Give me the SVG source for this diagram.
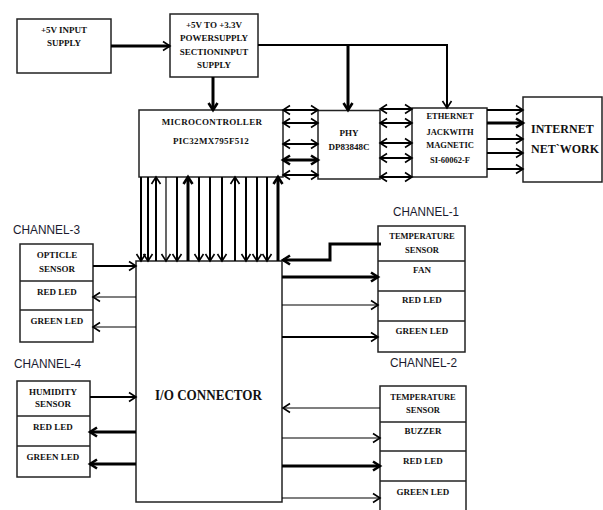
<svg xmlns="http://www.w3.org/2000/svg" width="603" height="510" viewBox="0 0 603 510">
<style>
.box{fill:#fff;stroke:#222;stroke-width:1.5}
.t{font-family:"Liberation Serif","Times New Roman",serif;font-weight:bold;font-size:9px;fill:#111;text-anchor:middle}
.ch{font-family:"Liberation Sans",Arial,sans-serif;font-size:13px;fill:#1a1a2e}
.big{font-family:"Liberation Serif","Times New Roman",serif;font-weight:bold;font-size:15px;fill:#111}
.net{font-family:"Liberation Serif","Times New Roman",serif;font-weight:bold;font-size:12px;fill:#111}
.c path,.c line,.c polyline{fill:none;stroke:#000}
.w1{stroke-width:1.2}
.w2{stroke-width:2}
.w3{stroke-width:3}
</style>
<defs>
<marker id="a" markerUnits="userSpaceOnUse" viewBox="-1 -6 10 12" markerWidth="10" markerHeight="12" refX="7" refY="0" orient="auto-start-reverse" overflow="visible">
<path d="M0,-4.5 L7,0 L0,4.5" fill="none" stroke="#000" stroke-width="1.6"/>
</marker>
<marker id="b" markerUnits="userSpaceOnUse" viewBox="-1 -6 10 12" markerWidth="10" markerHeight="12" refX="7" refY="0" orient="auto-start-reverse" overflow="visible">
<path d="M0,-4.5 L7,0 L0,4.5" fill="none" stroke="#000" stroke-width="2.6"/>
</marker>
</defs>

<g id="input-supply">
<rect class="box" x="17" y="19" width="94" height="54"/>
<text class="t" x="64" y="33">+5V INPUT</text>
<text class="t" x="64" y="46">SUPPLY</text>
</g>

<g id="power-supply">
<rect class="box" x="170" y="14" width="88" height="63"/>
<text class="t" x="214" y="28">+5V TO +3.3V</text>
<text class="t" x="214" y="41">POWERSUPPLY</text>
<text class="t" x="214" y="55">SECTIONINPUT</text>
<text class="t" x="214" y="68">SUPPLY</text>
</g>

<g id="microcontroller">
<rect class="box" x="139" y="110" width="144" height="67"/>
<text class="t" x="212" y="124.5" letter-spacing="0.3">MICROCONTROLLER</text>
<text class="t" x="211" y="143.5" letter-spacing="0.3">PIC32MX795F512</text>
</g>

<g id="phy">
<rect class="box" x="318" y="110.5" width="62" height="68.5"/>
<text class="t" x="349" y="136">PHY</text>
<text class="t" x="349" y="150">DP83848C</text>
</g>

<g id="ethernet">
<rect class="box" x="412" y="108" width="75" height="69"/>
<text class="t" x="450" y="119" style="font-size:8.5px">ETHERNET</text>
<text class="t" x="450" y="135" style="font-size:8.5px">JACKWITH</text>
<text class="t" x="450" y="148" style="font-size:8.5px">MAGNETIC</text>
<text class="t" x="450" y="163" style="font-size:8.5px">SI-60062-F</text>
</g>

<g id="internet">
<rect class="box" x="523" y="97" width="79" height="85"/>
<text class="net" x="531" y="133">INTERNET</text>
<text class="net" x="531" y="153">NET`WORK</text>
</g>

<g id="io-connector">
<rect class="box" x="136" y="261" width="146" height="241"/>
<text class="big" x="155" y="400" textLength="107" lengthAdjust="spacingAndGlyphs">I/O CONNECTOR</text>
</g>

<g id="channel-3">
<text class="ch" x="13" y="234" textLength="67" lengthAdjust="spacingAndGlyphs">CHANNEL-3</text>
<rect class="box" x="20" y="244" width="73" height="98"/>
<line x1="20" y1="281" x2="93" y2="281" stroke="#222" stroke-width="1.5"/>
<line x1="20" y1="310" x2="93" y2="310" stroke="#222" stroke-width="1.5"/>
<text class="t" x="57" y="258">OPTICLE</text>
<text class="t" x="57" y="272">SENSOR</text>
<text class="t" x="57" y="295">RED LED</text>
<text class="t" x="57" y="324">GREEN LED</text>
</g>

<g id="channel-4">
<text class="ch" x="14" y="368" textLength="67" lengthAdjust="spacingAndGlyphs">CHANNEL-4</text>
<rect class="box" x="17" y="381" width="73" height="96"/>
<line x1="17" y1="416" x2="90" y2="416" stroke="#222" stroke-width="1.5"/>
<line x1="17" y1="446" x2="90" y2="446" stroke="#222" stroke-width="1.5"/>
<text class="t" x="53" y="395">HUMIDITY</text>
<text class="t" x="53" y="407">SENSOR</text>
<text class="t" x="53" y="430">RED LED</text>
<text class="t" x="53" y="460">GREEN LED</text>
</g>

<g id="channel-1">
<text class="ch" x="393" y="216" textLength="66" lengthAdjust="spacingAndGlyphs">CHANNEL-1</text>
<rect class="box" x="378" y="226" width="87" height="126"/>
<line x1="378" y1="261" x2="465" y2="261" stroke="#222" stroke-width="1.5"/>
<line x1="378" y1="291" x2="465" y2="291" stroke="#222" stroke-width="1.5"/>
<line x1="378" y1="321" x2="465" y2="321" stroke="#222" stroke-width="1.5"/>
<text class="t" x="422" y="239" style="font-size:8.5px">TEMPERATURE</text>
<text class="t" x="422" y="253" style="font-size:8.5px">SENSOR</text>
<text class="t" x="422" y="273">FAN</text>
<text class="t" x="422" y="303">RED LED</text>
<text class="t" x="422" y="334">GREEN LED</text>
</g>

<g id="channel-2">
<text class="ch" x="390" y="367" textLength="67" lengthAdjust="spacingAndGlyphs">CHANNEL-2</text>
<rect class="box" x="380" y="386" width="86" height="130"/>
<line x1="380" y1="422" x2="466" y2="422" stroke="#222" stroke-width="1.5"/>
<line x1="380" y1="451" x2="466" y2="451" stroke="#222" stroke-width="1.5"/>
<line x1="380" y1="481" x2="466" y2="481" stroke="#222" stroke-width="1.5"/>
<text class="t" x="423" y="400" style="font-size:8.5px">TEMPERATURE</text>
<text class="t" x="423" y="413" style="font-size:8.5px">SENSOR</text>
<text class="t" x="423" y="434">BUZZER</text>
<text class="t" x="423" y="464">RED LED</text>
<text class="t" x="423" y="495">GREEN LED</text>
</g>

<g id="connectors" class="c">
<line class="w3" x1="111" y1="46" x2="170" y2="46" marker-end="url(#a)"/>
<line class="w3" x1="213" y1="77" x2="213" y2="110" marker-end="url(#b)"/>
<polyline class="w2" points="258,45 447,45 447,108" marker-end="url(#a)"/>
<line class="w3" x1="348" y1="45" x2="348" y2="110" marker-end="url(#b)"/>

<line class="w2" x1="283" y1="110" x2="318" y2="110" marker-start="url(#a)" marker-end="url(#a)"/>
<line class="w2" x1="283" y1="123" x2="318" y2="123" marker-start="url(#a)" marker-end="url(#a)"/>
<line class="w2" x1="283" y1="144" x2="318" y2="144" marker-start="url(#a)" marker-end="url(#a)"/>
<line class="w3" x1="283" y1="160" x2="318" y2="160" marker-start="url(#b)" marker-end="url(#b)"/>
<line class="w2" x1="283" y1="175" x2="318" y2="175" marker-start="url(#a)" marker-end="url(#a)"/>

<line class="w2" x1="380" y1="109" x2="412" y2="109" marker-start="url(#a)" marker-end="url(#a)"/>
<line class="w2" x1="380" y1="123" x2="412" y2="123" marker-start="url(#a)" marker-end="url(#a)"/>
<line class="w2" x1="380" y1="143" x2="412" y2="143" marker-start="url(#a)" marker-end="url(#a)"/>
<line class="w2" x1="380" y1="158" x2="412" y2="158" marker-start="url(#a)" marker-end="url(#a)"/>
<line class="w2" x1="380" y1="177" x2="412" y2="177" marker-start="url(#a)" marker-end="url(#a)"/>

<line class="w2" x1="487" y1="110" x2="523" y2="110" marker-end="url(#a)"/>
<line class="w3" x1="487" y1="123" x2="523" y2="123" marker-end="url(#b)"/>
<line class="w2" x1="487" y1="139" x2="523" y2="139" marker-end="url(#a)"/>
<line class="w2" x1="487" y1="153" x2="523" y2="153" marker-end="url(#a)"/>
<line class="w2" x1="487" y1="169" x2="523" y2="169" marker-end="url(#a)"/>

<line class="w2" x1="141" y1="177" x2="141" y2="261" marker-end="url(#a)"/>
<line class="w2" x1="148" y1="177" x2="148" y2="261" marker-end="url(#a)"/>
<line class="w2" x1="156" y1="261" x2="156" y2="177" marker-end="url(#a)"/>
<line class="w1" x1="166" y1="177" x2="166" y2="261" marker-end="url(#a)"/>
<line class="w2" x1="177" y1="177" x2="177" y2="261" marker-end="url(#a)"/>
<line class="w3" x1="188" y1="261" x2="188" y2="177" marker-end="url(#b)"/>
<line class="w2" x1="199" y1="177" x2="199" y2="261" marker-end="url(#a)"/>
<line class="w2" x1="210" y1="177" x2="210" y2="261" marker-end="url(#a)"/>
<line class="w2" x1="222" y1="177" x2="222" y2="261" marker-end="url(#a)"/>
<line class="w2" x1="235" y1="261" x2="235" y2="177" marker-end="url(#a)"/>
<line class="w2" x1="246" y1="177" x2="246" y2="261" marker-end="url(#a)"/>
<line class="w2" x1="257" y1="177" x2="257" y2="261" marker-end="url(#a)"/>
<line class="w2" x1="267" y1="177" x2="267" y2="261" marker-end="url(#a)"/>
<line class="w3" x1="278" y1="261" x2="278" y2="177" marker-end="url(#b)"/>

<line class="w2" x1="93" y1="266" x2="136" y2="266" marker-end="url(#a)"/>
<line class="w1" x1="136" y1="297" x2="93" y2="297" marker-end="url(#a)"/>
<line class="w1" x1="136" y1="327" x2="93" y2="327" marker-end="url(#a)"/>

<line class="w2" x1="90" y1="397" x2="136" y2="397" marker-end="url(#a)"/>
<line class="w3" x1="136" y1="432" x2="90" y2="432" marker-end="url(#b)"/>
<line class="w3" x1="136" y1="464" x2="90" y2="464" marker-end="url(#b)"/>

<polyline class="w3" points="381,244 330,244 330,260 283,260" marker-end="url(#b)"/>
<line class="w3" x1="282" y1="277" x2="378" y2="277" marker-end="url(#b)"/>
<line class="w1" x1="282" y1="305" x2="378" y2="305" marker-end="url(#a)"/>
<line class="w2" x1="282" y1="337" x2="378" y2="337" marker-end="url(#a)"/>

<line class="w1" x1="380" y1="408" x2="283" y2="408" marker-end="url(#a)"/>
<line class="w1" x1="282" y1="438" x2="380" y2="438" marker-end="url(#a)"/>
<line class="w3" x1="282" y1="466" x2="380" y2="466" marker-end="url(#b)"/>
<line class="w1" x1="282" y1="498" x2="380" y2="498" marker-end="url(#a)"/>
</g>
</svg>
